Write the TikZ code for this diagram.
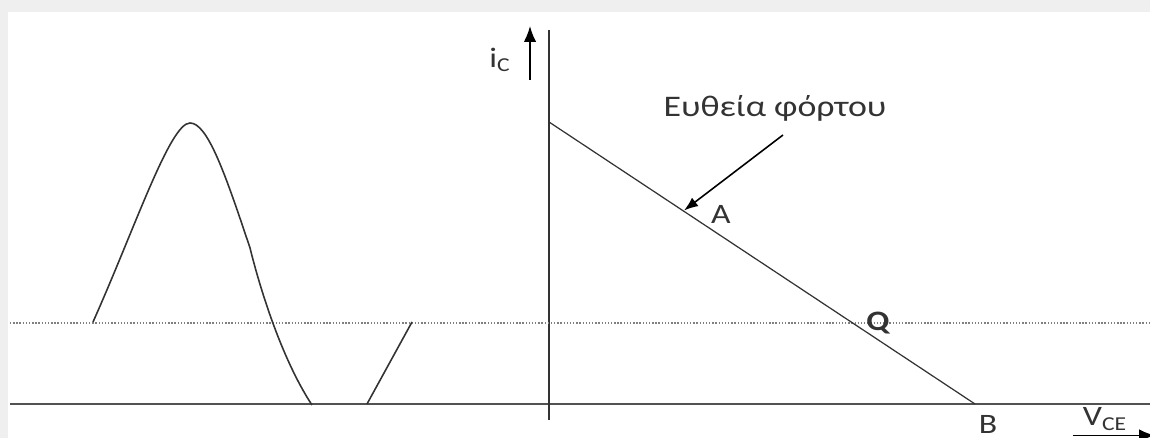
\documentclass[tikz,border=0pt]{standalone}
\usepackage{fontspec}
\setmainfont{Carlito}
\newfontfamily\lblfont[FakeStretch=1.2]{Carlito}
\usepackage{xcolor}
\usetikzlibrary{arrows.meta}
\definecolor{ink}{HTML}{333333}
\definecolor{frame}{HTML}{EFEFEF}

\begin{document}
\begin{tikzpicture}
    \useasboundingbox (0,0) rectangle (23,8.76);
    % screenshot frame
    \fill[frame] (0,0) rectangle (23,8.76);
    \fill[white] (0.16,0) rectangle (23,8.52);

    % Axes
    \coordinate (origin) at (10.98,0.68);
    \coordinate (ytop) at (10.98,8.16);
    \coordinate (ybot) at (10.98,0.36);
    \coordinate (xleft) at (0.2,0.68);
    \coordinate (xright) at (23,0.68);
    \draw[ink!85, line width=1.1pt] (xleft) -- (xright);
    \draw[ink, line width=0.8pt] (ybot) -- (ytop);
    \draw[gray, densely dotted, line width=0.8pt] (0.2,2.3) -- (23,2.3);

    % Load line
    \coordinate (icmax) at (10.98,6.32);
    \coordinate (ptB) at (19.5,0.68);
    \coordinate (ptA) at (13.68,4.55);
    \draw[ink, line width=0.7pt] (icmax) -- (ptB);

    % Labels
    \node[ink, font=\lblfont\fontsize{17}{19}\selectfont] (title) at (15.5,6.6) {Ευθεία φόρτου};
    \node[ink, font=\lblfont\fontsize{16}{18}\selectfont] (labA) at (14.42,4.48) {A};
    \node[ink, font=\lblfont\bfseries\fontsize{16}{18}\selectfont] (labQ) at (17.56,2.3) {Q};
    \node[ink, font=\lblfont\fontsize{16}{18}\selectfont] (labB) at (19.76,0.28) {B};
    \node[ink, font=\lblfont\fontsize{16}{18}\selectfont] (labV) at (22.1,0.38) {V\textsubscript{CE}};
    \node[ink, font=\lblfont\fontsize{16}{18}\selectfont] (labI) at (10.0,7.56) {i\textsubscript{C}};
    \coordinate (tstart) at (15.66,6.06);
    \draw[-{Latex[length=8pt,width=6pt]}, black, line width=0.9pt] (tstart) -- (ptA);

    % Axis arrows
    \coordinate (iarr0) at (10.6,7.16);
    \coordinate (iarr1) at (10.6,8.24);
    \draw[-{Latex[length=9pt,width=7pt]}, black, line width=0.9pt] (iarr0) -- (iarr1);
    \coordinate (varr0) at (21.46,0.05);
    \coordinate (varr1) at (23.1,0.05);
    \draw[-{Latex[length=9pt,width=7pt]}, black, line width=0.9pt] (varr0) -- (varr1);

    % Waveform
    \draw[ink, line width=0.9pt] (1.86,2.32) .. controls (2.7,4.2) and (3.4,6.3) .. (3.8,6.3)
        .. controls (4.15,6.3) and (4.5,5.3) .. (5.0,3.8)
        .. controls (5.3,2.6) and (5.75,1.4) .. (6.24,0.66);
    \draw[ink, line width=0.9pt] (7.34,0.68) -- (8.24,2.32);
\end{tikzpicture}
\end{document}
